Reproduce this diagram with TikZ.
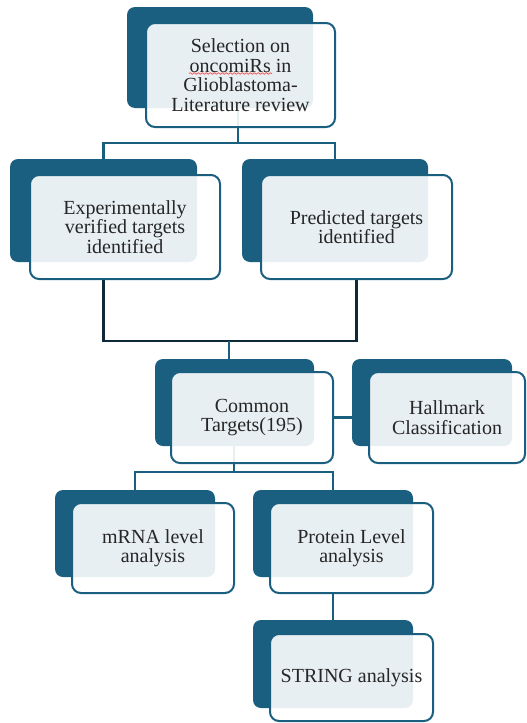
\documentclass[tikz,border=0pt]{standalone}
\usepackage{fontspec}
\setmainfont{Liberation Serif}
\usetikzlibrary{backgrounds,decorations.pathmorphing}
\definecolor{dkblue}{HTML}{1A5E80}
\definecolor{navy}{HTML}{10293A}
\tikzset{
  back/.style={draw=none, fill=dkblue, rounded corners=8pt, inner sep=0pt},
  front/.style={draw=dkblue, line width=2pt, fill=white, fill opacity=0.9, text opacity=1,
    rounded corners=9pt, inner sep=0pt, align=center, text=black!85,
    font=\fontsize{20}{19.5}\selectfont},
  conn/.style={draw=dkblue, line width=2.5pt},
  brk/.style={draw=navy, line width=2.5pt},
}
\begin{document}
\begin{tikzpicture}[x=1pt,y=-1pt]
\useasboundingbox (0,0) rectangle (527,723);
% dark back boxes
\node[back, minimum width=186pt, minimum height=101pt] (b1d) at (220,57.5) {};
\node[back, minimum width=187pt, minimum height=103pt] (b2d) at (103.5,210.5) {};
\node[back, minimum width=186pt, minimum height=103pt] (b3d) at (335,210.5) {};
\node[back, minimum width=159pt, minimum height=87pt] (b4d) at (234.5,402.5) {};
\node[back, minimum width=160pt, minimum height=87pt] (b5d) at (432,402.5) {};
\node[back, minimum width=160pt, minimum height=87pt] (b6d) at (135,533.5) {};
\node[back, minimum width=160pt, minimum height=87pt] (b7d) at (333,533.5) {};
\node[back, minimum width=160pt, minimum height=88pt] (b8d) at (333,664) {};
% front boxes
\node[front, minimum width=189pt, minimum height=104pt] (b1f) at (240.5,75)
  {Selection on\\oncomiRs in\\Glioblastoma-\\Literature review};
\node[front, minimum width=190pt, minimum height=104pt] (b2f) at (125,227)
  {Experimentally\\verified targets\\identified};
\node[front, minimum width=191pt, minimum height=104pt] (b3f) at (356.5,227)
  {Predicted targets\\identified};
\node[front, minimum width=162pt, minimum height=91pt] (b4f) at (252,417.5)
  {Common\\Targets(195)};
\node[front, minimum width=156pt, minimum height=91pt] (b5f) at (447,417.5)
  {Hallmark\\Classification};
\node[front, minimum width=162pt, minimum height=90pt] (b6f) at (153,548)
  {mRNA level\\analysis};
\node[front, minimum width=163pt, minimum height=90pt] (b7f) at (351.5,548)
  {Protein Level\\analysis};
\node[front, minimum width=163pt, minimum height=87pt] (b8f) at (351.5,677.5)
  {STRING analysis};
% spell-check underline
\draw[red!80, line width=0.6pt, decorate, decoration={snake, amplitude=0.8pt, segment length=4pt}]
  (189,73.5) -- (272,73.5);
% connectors
\coordinate (t1) at (238,143);
\coordinate (br) at (229,341);
\coordinate (t2) at (234,472);
\begin{scope}[on background layer]
\draw[conn] (b2d.north) |- (t1) -| (b3d.north);
\draw[conn] (b1d.south -| t1) -- (t1);
\draw[brk] (b2f.south -| b2d.south) |- (br) -| (b3f.south);
\draw[conn] (br) -- (br |- b4d.north);
\draw[conn] (b4f.east) -- (b4f.east -| b5d.west);
\draw[conn] (b4d.south -| t2) -- (t2);
\draw[conn] (b6d.north) |- (t2) -| (b7d.north);
\draw[conn] (b7f.south -| b7d.south) -- (b8d.north);
\end{scope}
\end{tikzpicture}
\end{document}
